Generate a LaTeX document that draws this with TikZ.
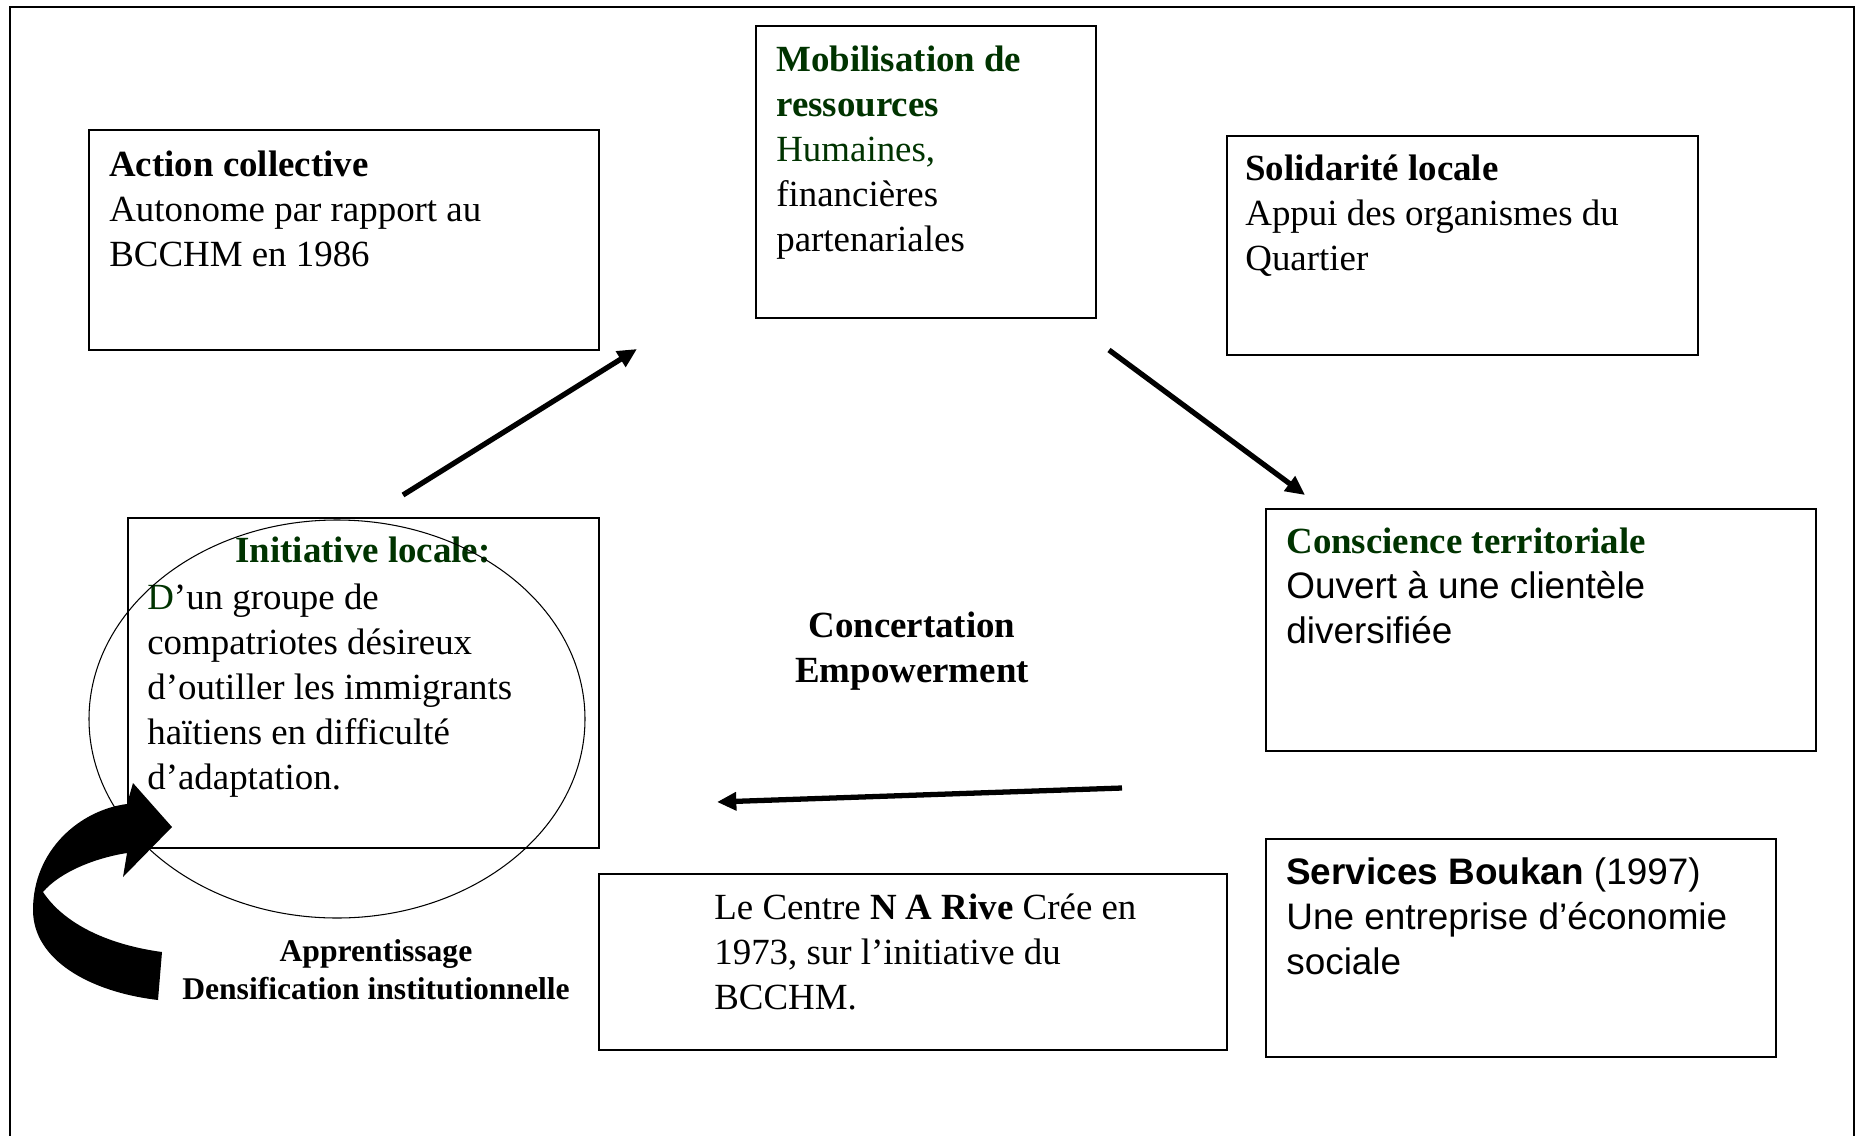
\documentclass[tikz,border=0pt]{standalone}
\usepackage{fontspec}
\setmainfont{Liberation Serif}
\newfontfamily\arialfont{Liberation Sans}
\usetikzlibrary{arrows.meta,fit}

\definecolor{leafgreen}{RGB}{0,51,0}

% texts are placed by the baseline of their last line
\tikzset{
    box/.style={draw, line width=0.9pt, inner sep=0pt},
    txt/.style={align=left, inner sep=0pt, anchor=base west, font=\fontsize{21}{25.5}\selectfont},
    midtxt/.style={align=center, inner sep=0pt, anchor=base, font=\fontsize{21}{25.5}\selectfont\bfseries},
    flow/.style={line width=3pt, -{Triangle[length=11pt,width=10pt]}},
}

\begin{document}
\begin{tikzpicture}[x=0.02cm, y=-0.02cm]
    \useasboundingbox (0,0) rectangle (1860,1136);
    \draw[line width=0.9pt] (10,1136) -- (10,7) -- (1854,7) -- (1854,1136);

    % the boxes
    \node[box, fit={(89,130) (599,350)}] (action) {};
    \node[box, fit={(756,26) (1096,318)}] (mobil) {};
    \node[box, fit={(1227,136) (1698,355)}] (solid) {};
    \node[box, fit={(128,518) (599,848)}] (initiative) {};
    \node[box, fit={(1266,509) (1816,751)}] (conscience) {};
    \node[box, fit={(599,874) (1227,1050)}] (centre) {};
    \node[box, fit={(1266,839) (1776,1057)}] (boukan) {};

    % their texts
    \node[txt] (actiontxt) at (109,266) {\textbf{Action collective}\\Autonome par rapport au\\BCCHM en 1986};
    \node[txt] (mobiltxt) at (776,251) {\color{leafgreen}\textbf{Mobilisation de}\\\color{leafgreen}\textbf{ressources}\\\color{leafgreen}Humaines,\\financières\\partenariales};
    \node[txt] (solidtxt) at (1245,270) {\textbf{Solidarité locale}\\Appui des organismes du\\Quartier};
    \node[midtxt, text=leafgreen] (inittitle) at (363,562) {Initiative locale:};
    \node[txt] (inittxt) at (147,789) {{\color{leafgreen}D}’un groupe de\\compatriotes désireux\\d’outiller les immigrants\\haïtiens en difficulté\\d’adaptation.};
    \node[txt] (consctxt) at (1286,643) {\textcolor{leafgreen}{\textbf{Conscience territoriale}}\\\arialfont Ouvert à une clientèle\\\arialfont diversifiée};
    \node[txt] (centretxt) at (714,1009) {Le Centre \textbf{N A Rive} Crée en\\1973, sur l’initiative du\\BCCHM.};
    \node[txt, font=\fontsize{21}{25.5}\arialfont] (bouktxt) at (1286,974) {\textbf{Services Boukan} (1997)\\Une entreprise d’économie\\sociale};
    \node[midtxt] (concert) at (912,682) {Concertation\\Empowerment};
    \node[midtxt, font=\fontsize{18}{21.5}\selectfont\bfseries] (learning) at (376,999) {Apprentissage\\Densification institutionnelle};

    % the ring round the initiative
    \draw[line width=0.6pt] (337,719) ellipse [x radius=248, y radius=199];

    % arrows
    \coordinate (a1) at (403,495);
    \coordinate (a2) at (637,349);
    \coordinate (b1) at (1109,350);
    \coordinate (b2) at (1305,495);
    \coordinate (c1) at (1122,788);
    \coordinate (c2) at (717,802);
    \draw[flow] (a1) -- (a2);
    \draw[flow] (b1) -- (b2);
    \draw[flow] (c1) -- (c2);

    % big curved arrow
    \fill (162,952) -- (158,1000) .. controls (90,992) and (33,960) .. (33,910)
        .. controls (33,850) and (80,810) .. (127,804) -- (133,783) -- (172,827)
        -- (123,877) -- (127,853) .. controls (95,858) and (60,872) .. (43,892)
        .. controls (65,925) and (110,945) .. (162,952) -- cycle;
\end{tikzpicture}
\end{document}
